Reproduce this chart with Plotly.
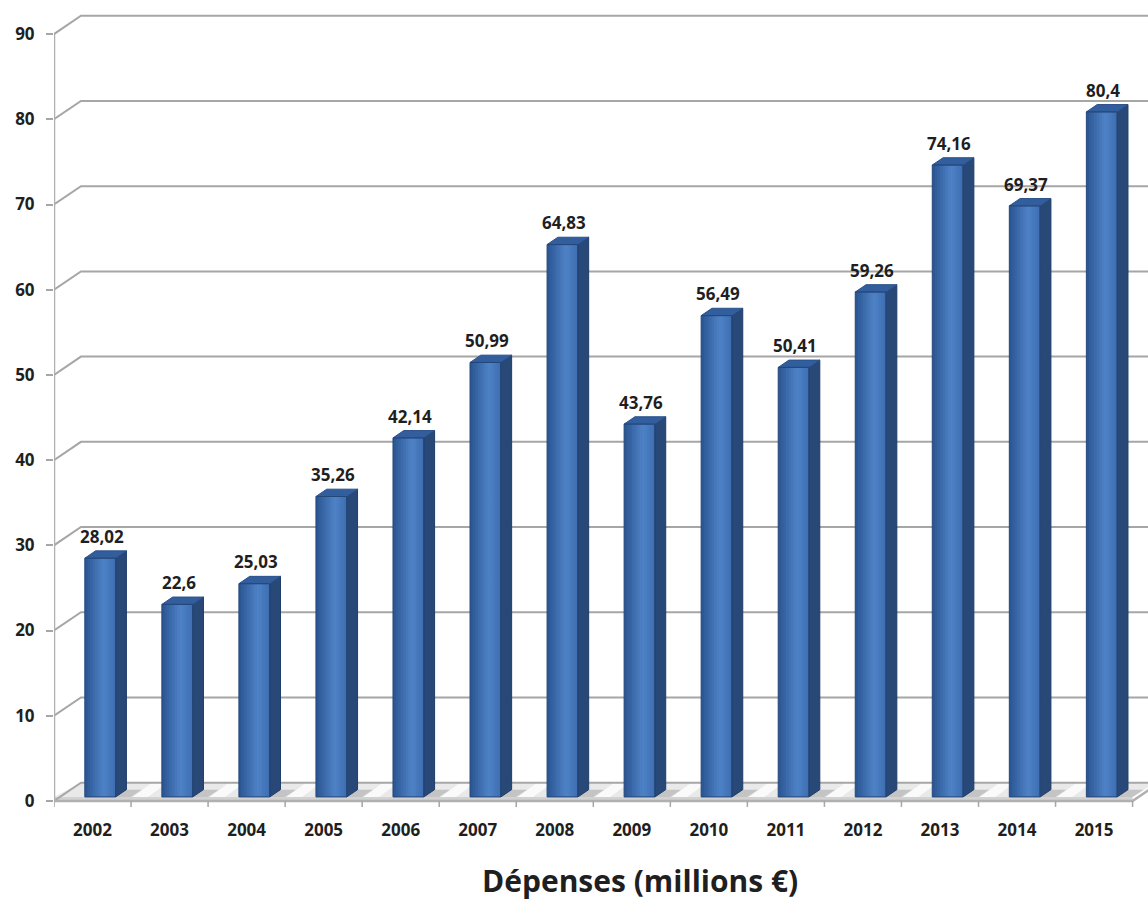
import plotly.graph_objects as go
import numpy as np

# ---- data ----
years = ["2002", "2003", "2004", "2005", "2006", "2007", "2008",
         "2009", "2010", "2011", "2012", "2013", "2014", "2015"]
depenses = [28.02, 22.6, 25.03, 35.26, 42.14, 50.99, 64.83,
            43.76, 56.49, 50.41, 59.26, 74.16, 69.37, 80.4]
y_ticks = [0, 10, 20, 30, 40, 50, 60, 70, 80, 90]
title_text = "Dépenses (millions €)"

# ---- 3D geometry (style) ----
n = len(years)
xpos = np.arange(n)
X_MIN, X_MAX = -0.5, 13.7
Y_MIN, Y_MAX = -2.0, 94.0
WALL_DX, WALL_DY = 0.35, 2.15      # back wall offset
BAR_W = 0.40                        # front face width
BAR_SHIFT = 0.10                    # front face centre shift
BAR_DX, BAR_DY = 0.14, 0.86         # bar depth offset
BASE = 0.47                         # floor surface front edge / bar bottom
GRID = "#a6a6a6"
FONT = "Open Sans"
TXT = "#1f1f1f"
X_END = n - 0.5


def poly_trace(xs, ys, fill, line_color=None, width=0):
    return go.Scatter(x=xs, y=ys, mode="lines", fill="toself", fillcolor=fill,
                      line=dict(color=line_color or fill, width=width),
                      hoverinfo="skip", showlegend=False)


fig = go.Figure()

# floor surface (top of slab)
fig.add_trace(poly_trace([X_MIN, X_END, X_END + WALL_DX, X_MIN + WALL_DX, X_MIN],
                         [BASE, BASE, WALL_DY, WALL_DY, BASE], "#e9e9e9"))
# floor front lip
fig.add_trace(poly_trace([X_MIN, X_END, X_END, X_MIN, X_MIN],
                         [0, 0, BASE, BASE, 0], "#d2d2d2"))
# white highlight bands between bars
hx, hy = [], []
for i in range(n):
    xc = xpos[i] + BAR_SHIFT + BAR_W / 2 + 0.30
    hx += [xc - 0.08, xc + 0.12, xc + 0.12 + 0.25, xc - 0.08 + 0.25, xc - 0.08, None]
    hy += [BASE, BASE, WALL_DY, WALL_DY, BASE, None]
fig.add_trace(poly_trace(hx, hy, "rgba(255,255,255,0.75)"))
# shadows next to bars
sx, sy = [], []
for i in range(n):
    xr = xpos[i] + BAR_SHIFT + BAR_W / 2
    sx += [xr, xr + BAR_DX, xr + BAR_DX + 0.2, xr + 0.2, xr, None]
    sy += [BASE, BASE + BAR_DY, BASE + BAR_DY, BASE, BASE, None]
fig.add_trace(poly_trace(sx, sy, "rgba(150,150,150,0.45)"))

# back wall gridlines + diagonals
gx, gy = [], []
for v in y_ticks:
    gx += [X_MIN, X_MIN + WALL_DX, X_END + WALL_DX, None]
    gy += [v, v + WALL_DY, v + WALL_DY, None]
fig.add_trace(go.Scatter(x=gx, y=gy, mode="lines", line=dict(color=GRID, width=2),
                         hoverinfo="skip", showlegend=False))

# front axis lines
fig.add_trace(go.Scatter(x=[X_MIN, X_MIN, None, X_MIN, X_END, X_END + WALL_DX],
                         y=[0, y_ticks[-1], None, 0, 0, WALL_DY],
                         mode="lines", line=dict(color="#b0b0b0", width=2.5),
                         hoverinfo="skip", showlegend=False))
# category boundary ticks
tx, ty = [], []
for b in np.arange(n + 1) - 0.5:
    tx += [b, b, None]
    ty += [0, -0.7, None]
fig.add_trace(go.Scatter(x=tx, y=ty, mode="lines", line=dict(color=GRID, width=1.5),
                         hoverinfo="skip", showlegend=False))


# front faces with horizontal gradient strips
def lerp(c1, c2, t):
    return tuple(int(round(a + (b - a) * t)) for a, b in zip(c1, c2))


left_c, mid_c, right_c = (42, 84, 145), (78, 130, 198), (62, 110, 178)
NS = 12
sw = BAR_W / NS
for k in range(NS):
    t = (k + 0.5) / NS
    c = lerp(left_c, mid_c, t / 0.6) if t < 0.6 else lerp(mid_c, right_c, (t - 0.6) / 0.4)
    px, py = [], []
    for i, v in enumerate(depenses):
        x0 = xpos[i] + BAR_SHIFT - BAR_W / 2 + k * sw
        x1 = min(x0 + sw * 1.8, xpos[i] + BAR_SHIFT + BAR_W / 2)
        top = v + BASE
        px += [x0, x1, x1, x0, x0, None]
        py += [BASE, BASE, top, top, BASE, None]
    fig.add_trace(poly_trace(px, py, "rgb(%d,%d,%d)" % c))

# side and top faces, front outline
sdx, sdy, tdx, tdy, ox, oy = [], [], [], [], [], []
for i, v in enumerate(depenses):
    xl = xpos[i] + BAR_SHIFT - BAR_W / 2
    xr = xpos[i] + BAR_SHIFT + BAR_W / 2
    top = v + BASE
    sdx += [xr, xr + BAR_DX, xr + BAR_DX, xr, xr, None]
    sdy += [BASE, BASE + BAR_DY, top + BAR_DY, top, BASE, None]
    tdx += [xl, xl + BAR_DX, xr + BAR_DX, xr, xl, None]
    tdy += [top, top + BAR_DY, top + BAR_DY, top, top, None]
    ox += [xl, xr, xr, xl, xl, None]
    oy += [BASE, BASE, top, top, BASE, None]
fig.add_trace(poly_trace(sdx, sdy, "rgb(40,72,120)", "#1f3d69", 1))
fig.add_trace(poly_trace(tdx, tdy, "rgb(50,94,158)", "#2a5189", 1))
fig.add_trace(go.Scatter(x=ox, y=oy, mode="lines", line=dict(color="#24477a", width=1),
                         hoverinfo="skip", showlegend=False))
# hover points
fig.add_trace(go.Scatter(x=xpos + BAR_SHIFT, y=depenses, mode="markers",
                         marker=dict(opacity=0, size=1), text=years,
                         hovertemplate="%{text}: %{y}<extra></extra>", showlegend=False))

# value labels
for i, v in enumerate(depenses):
    fig.add_annotation(x=xpos[i] + BAR_SHIFT + 0.02, y=v + BASE + BAR_DY,
                       text=("%g" % v).replace(".", ","), showarrow=False,
                       yanchor="bottom", yshift=1,
                       font=dict(family=FONT, size=17, color=TXT, weight="bold"))

# title
fig.add_annotation(x=0.536, y=0, xref="paper", yref="paper", yanchor="middle",
                   yshift=-62, text="<b>%s</b>" % title_text, showarrow=False,
                   font=dict(family=FONT, size=30, color=TXT))

fig.update_layout(
    width=1148, height=900,
    margin=dict(l=54, r=0, t=0, b=82),
    paper_bgcolor="white", plot_bgcolor="white",
    xaxis=dict(range=[X_MIN, X_MAX], tickvals=list(xpos), ticktext=years,
               showgrid=False, zeroline=False, showline=False, ticks="",
               tickfont=dict(family=FONT, size=17, color=TXT, weight="bold")),
    yaxis=dict(range=[Y_MIN, Y_MAX], tickvals=y_ticks, showgrid=False,
               zeroline=False, showline=False, ticks="outside", ticklen=7,
               tickcolor=GRID, tickwidth=2, ticklabelstandoff=8,
               tickfont=dict(family=FONT, size=17, color=TXT, weight="bold")),
)

fig.write_html("out.html")
